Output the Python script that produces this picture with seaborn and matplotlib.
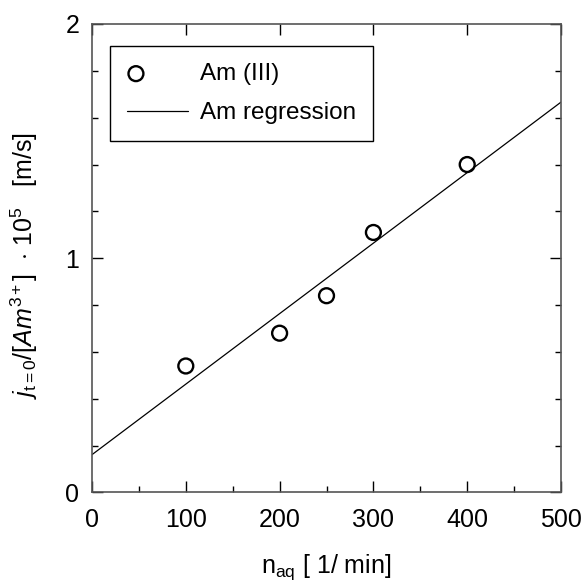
import numpy as np
import pandas as pd
import matplotlib
matplotlib.use('Agg')
import matplotlib.pyplot as plt
from matplotlib.ticker import MultipleLocator
from matplotlib.legend_handler import HandlerPathCollection
from matplotlib.collections import PathCollection
import seaborn as sns

# stirring rate vs. normalised initial flux
stirring = [100, 200, 250, 300, 400]
flux = [0.54, 0.68, 0.84, 1.11, 1.40]
series_point = 'Am (III)'
series_line = 'Am regression'

df = pd.DataFrame({'n': stirring, 'j': flux})


class LeftMarker(HandlerPathCollection):
    # put the open circle near the left end of the handle box
    def get_xdata(self, legend, xdescent, ydescent, width, height, fontsize):
        x = [-xdescent + 0.15 * width]
        return x, x


sns.set_style('ticks')
plt.rcParams['font.family'] = ['Liberation Sans', 'DejaVu Sans']
plt.rcParams['mathtext.fontset'] = 'custom'
plt.rcParams['mathtext.rm'] = 'Liberation Sans'
plt.rcParams['mathtext.it'] = 'Liberation Sans:italic'
plt.rcParams['mathtext.bf'] = 'Liberation Sans:bold'
plt.rcParams['text.color'] = 'black'
plt.rcParams['axes.labelcolor'] = 'black'

fig = plt.figure(figsize=(5.83, 5.82), dpi=100)
ax = fig.add_axes([0.1578, 0.1538, 0.8045, 0.805])
ax.set_xlim(0, 500)
ax.set_ylim(0, 2)

sns.regplot(data=df, x='n', y='j', scatter=False, ci=None, truncate=False,
            line_kws={'color': 'black', 'lw': 0.9}, ax=ax)
sns.scatterplot(data=df, x='n', y='j', marker='o', s=115, facecolor='none',
                edgecolor='black', linewidth=1.7, ax=ax, zorder=3)

ax.set_xlim(0, 500)
ax.set_ylim(0, 2)
ax.xaxis.set_major_locator(MultipleLocator(100))
ax.xaxis.set_minor_locator(MultipleLocator(50))
ax.yaxis.set_major_locator(MultipleLocator(1))
ax.yaxis.set_minor_locator(MultipleLocator(0.2))

ax.tick_params(which='both', direction='in', top=True, right=True,
               colors='black', labelsize=18)
ax.tick_params(axis='x', pad=11)
ax.tick_params(axis='y', pad=9)
ax.tick_params(which='major', length=8, width=1)
ax.tick_params(which='minor', length=4.5, width=1, top=False)
for s in ax.spines.values():
    s.set_color('#555555')
    s.set_linewidth(1.2)

ax.set_xlabel(r'n$_{\mathrm{aq}}$ [ 1/ min]', fontsize=18, labelpad=15)
ax.set_ylabel(r'$\mathit{j}_{\mathrm{t=0}}\mathit{/[Am}^{\mathrm{3+}}\mathit{]}$  $\cdot$ 10$^{5}$   [m/s]',
              fontsize=18)
ax.yaxis.set_label_coords(-0.11, 0.485)

line_h = ax.lines[0]
pt_h = ax.collections[-1]
leg = ax.legend([pt_h, line_h], [series_point, series_line], loc='upper left',
                bbox_to_anchor=(0.038, 0.953), borderaxespad=0, fontsize=17.5,
                frameon=True, fancybox=False, framealpha=1, edgecolor='black',
                handlelength=2.5, handletextpad=0.5, labelspacing=0.7,
                borderpad=0.7, handler_map={PathCollection: LeftMarker()})
leg.get_frame().set_linewidth(1.0)

fig.savefig('out.png', dpi=100)
